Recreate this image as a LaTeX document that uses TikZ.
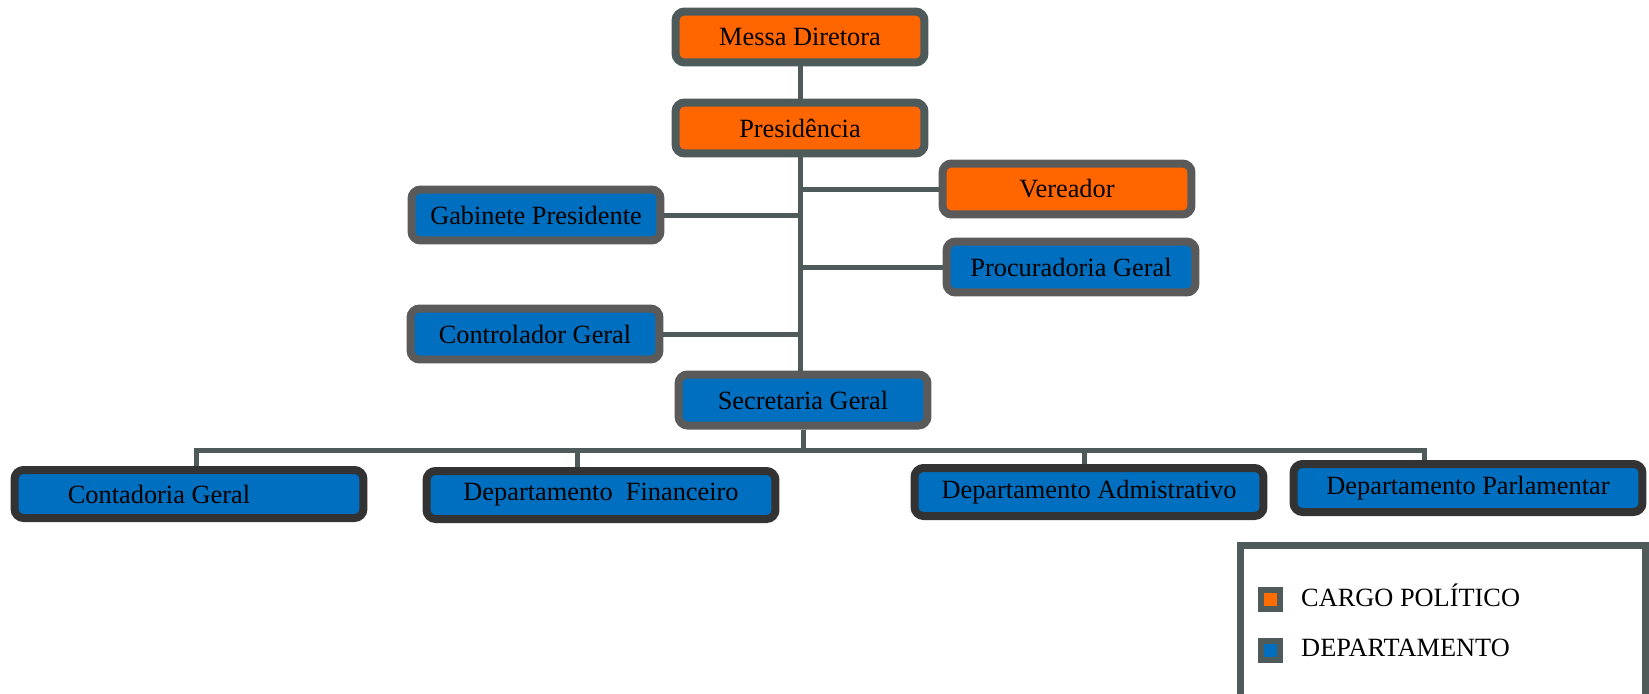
\documentclass[tikz,border=0pt]{standalone}
\usepackage{fontspec}
\setmainfont{Liberation Serif}
\definecolor{cargoorange}{HTML}{FF6600}
\definecolor{deptblue}{HTML}{006FBF}
\definecolor{slate}{HTML}{4F5A5A}
\definecolor{boxgray}{HTML}{5A5A5A}
\definecolor{darkrim}{HTML}{333333}
\tikzset{
box/.style={draw=boxgray, line width=0.16cm, rounded corners=0.18cm, minimum width=4.98cm, minimum height=1.02cm, inner sep=2pt, font=\fontsize{15}{18}\selectfont}, % every box of the chart
cargo/.style={box, fill=cargoorange}, % political posts
dept/.style={box, fill=deptblue}, % departments
lowdept/.style={dept, draw=darkrim, minimum width=6.98cm, minimum height=0.96cm}, % bottom row
conn/.style={draw=slate, line width=0.1cm}, % connector lines
legsq/.style={draw=slate, line width=0.12cm, minimum size=0.38cm, inner sep=0pt}, % legend squares
}

\begin{document}
\begin{tikzpicture}[x=0.02cm, y=-0.02cm]
    \useasboundingbox (0,0) rectangle (1649,693);
    % top of the chart
    \node[cargo, draw=slate] (messa) at (800,37) {Messa Diretora};
    \node[cargo, draw=slate] (presid) at (800,128) {Presidência};
    \node[cargo] (vereador) at (1067,189) {Vereador};
    \node[dept] (gabinete) at (536,215) {Gabinete Presidente};
    \node[dept] (procur) at (1071,267) {Procuradoria Geral};
    \node[dept] (control) at (535,334) {Controlador Geral};
    \node[dept] (secret) at (803,400) {Secretaria Geral};
    % bottom row
    \node[lowdept] (contad) at (189,494) {Contadoria Geral\hspace*{1.2cm}};
    \node[lowdept] (financ) at (601,495) {Departamento~~Financeiro};
    \node[lowdept] (admin) at (1089,492) {Departamento Admistrativo};
    \node[lowdept] (parlam) at (1468,488) {Departamento Parlamentar};
    \coordinate (bus) at (803,450);
    % connectors
    \draw[conn] (messa.south) -- (presid.north);
    \draw[conn] (presid.south) -- (presid.south |- secret.north);
    \draw[conn] (vereador.west) -- (vereador.west -| presid.south);
    \draw[conn] (gabinete.east) -- (gabinete.east -| presid.south);
    \draw[conn] (procur.west) -- (procur.west -| presid.south);
    \draw[conn] (control.east) -- (control.east -| presid.south);
    \draw[conn] (secret.south) -- (bus);
    \draw[conn] ([xshift=0.14cm]contad.north) |- (bus);
    \draw[conn] ([xshift=-0.48cm]financ.north) |- (bus);
    \draw[conn] ([xshift=-0.1cm]admin.north) |- (bus);
    \draw[conn] ([xshift=-0.88cm]parlam.north) |- (bus);
    % legend
    \draw[draw=slate, line width=0.14cm] (1240,700) -- (1240,545) -- (1645,545) -- (1645,700);
    \node[legsq, fill=orange!85!red] (sqcargo) at (1270,599) {};
    \node[legsq, fill=deptblue] (sqdept) at (1270,650) {};
    \node[anchor=west, font=\fontsize{15}{18}\selectfont] (txcargo) at (1295,595) {CARGO POLÍTICO};
    \node[anchor=west, font=\fontsize{15}{18}\selectfont] (txdept) at (1295,648) {DEPARTAMENTO};
\end{tikzpicture}
\end{document}
